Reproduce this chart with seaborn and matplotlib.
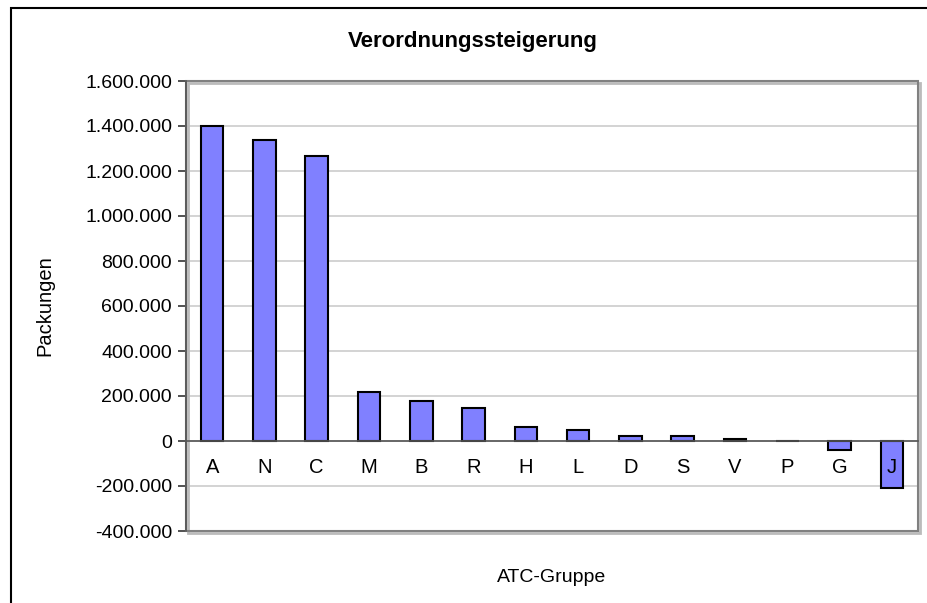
import matplotlib
matplotlib.use("Agg")
import matplotlib.pyplot as plt
import matplotlib.patches as patches
from matplotlib.ticker import FuncFormatter
import seaborn as sns
import pandas as pd
import numpy as np

# data
atc_groups = ["A", "N", "C", "M", "B", "R", "H", "L", "D", "S", "V", "P", "G", "J"]
packungen = [1402000, 1339000, 1266000, 220000, 179000, 148000, 62000,
             50000, 21000, 21000, 8000, 0, -39000, -208000]
y_ticks = list(range(-400000, 1600001, 200000))

df = pd.DataFrame({"ATC-Gruppe": atc_groups, "Packungen": packungen})

sns.set_style("white")
plt.rcParams['font.family'] = ['Liberation Sans', 'DejaVu Sans']
plt.rcParams['text.color'] = 'black'
plt.rcParams['xtick.labelcolor'] = 'black'
plt.rcParams['ytick.labelcolor'] = 'black'

fig = plt.figure(figsize=(9.28, 6.03), dpi=100)
ax = fig.add_axes([186 / 928, 1 - 531 / 603, (918 - 186) / 928, (531 - 81) / 603])

sns.barplot(data=df, x="ATC-Gruppe", y="Packungen", color="#8080FF", saturation=1,
            edgecolor="black", linewidth=1.5, width=0.43, ax=ax, zorder=3)

ax.set_ylim(-400000, 1600000)
ax.set_xlim(-0.5, len(atc_groups) - 0.5)
ax.set_yticks(y_ticks)
ax.yaxis.set_major_formatter(FuncFormatter(lambda v, p: f"{int(v):,}".replace(",", ".")))
ax.yaxis.grid(True, color="#cccccc", lw=1.2)
ax.set_axisbelow(True)
# category labels sit on top of the bars (J label is drawn over its bar)
ax.xaxis.set_zorder(5)

# category axis crosses at zero, like the spreadsheet original
for s in ["top", "right"]:
    ax.spines[s].set_visible(False)
ax.spines["bottom"].set_position(("data", 0))
ax.spines["bottom"].set_color("#555555")
ax.spines["bottom"].set_linewidth(1.2)
ax.spines["bottom"].set_zorder(4)
ax.spines["left"].set_color("#555555")
ax.spines["left"].set_linewidth(1.2)

ax.set_xticks(np.arange(len(atc_groups)))
ax.set_xticks(np.arange(len(atc_groups) + 1) - 0.5, minor=True)
ax.tick_params(axis="x", which="major", length=0, pad=12, labelsize=14.5)
ax.tick_params(axis="x", which="minor", length=6, width=1.2, color="#333333", direction="out")
ax.tick_params(axis="y", which="major", length=6, width=1.2, color="#333333", direction="out",
               labelsize=14, left=True, pad=4)

ax.set_xlabel("")
ax.set_ylabel("")

# plot area frame (grey) with small shadow
ax.add_patch(patches.Rectangle((0.003, -0.004), 1, 1, transform=ax.transAxes, fill=False,
                               edgecolor="#bbbbbb", lw=2, clip_on=False, zorder=1))
ax.add_patch(patches.Rectangle((0, 0), 1, 1, transform=ax.transAxes, fill=False,
                               edgecolor="#808080", lw=1.5, clip_on=False, zorder=2))

fig.text(473 / 928, 1 - 42 / 603, "Verordnungssteigerung", ha="center", va="center",
         fontsize=16, fontweight="bold")
fig.text(45 / 928, 1 - 306 / 603, "Packungen", ha="center", va="center", rotation=90,
         fontsize=14.5)
fig.text(552 / 928, 1 - 578 / 603, "ATC-Gruppe", ha="center", va="center", fontsize=14)

# outer chart frame
fig.patches.append(patches.Rectangle((11.5 / 928, -0.1), 1.2, 1.1 - 8.3 / 603,
                                     transform=fig.transFigure, fill=False,
                                     edgecolor="black", lw=1.5))

fig.savefig("out.png", dpi=100)
